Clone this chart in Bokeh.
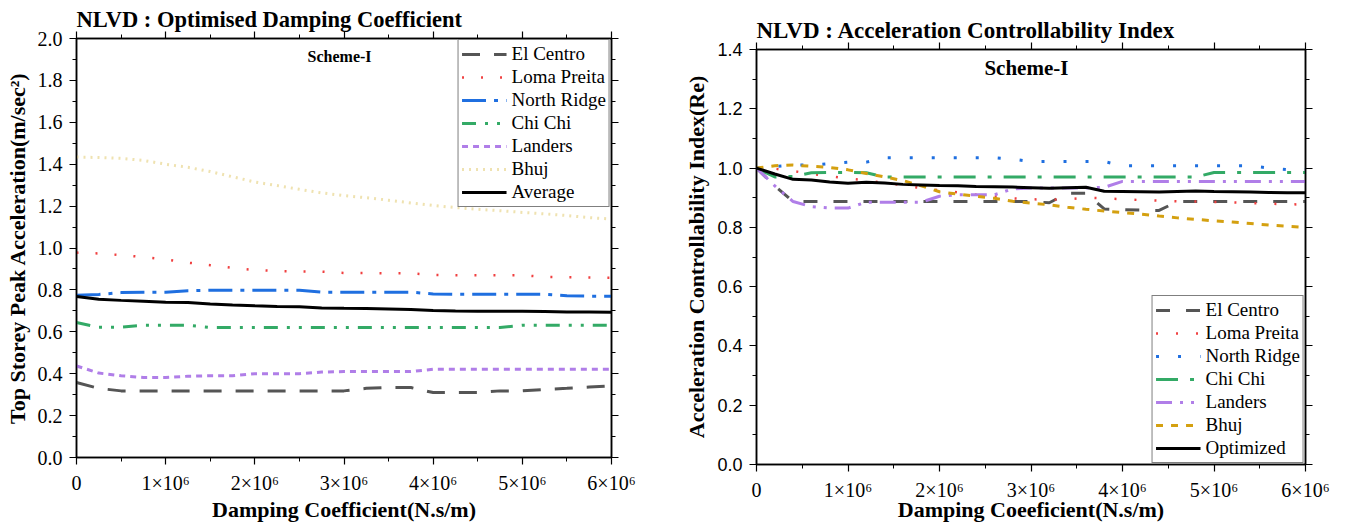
from bokeh.plotting import figure
from bokeh.layouts import row, column
from bokeh.models import Range1d, LinearAxis, FixedTicker, Label, NumeralTickFormatter
from bokeh.embed import file_html
from bokeh.resources import INLINE

MEGA = 1_000_000

# ---------------- left panel: top storey peak acceleration ----------------
damping_left = [0, 0.25, 0.5, 0.75, 1.0, 1.25, 1.5, 1.75, 2.0, 2.25, 2.5, 2.75, 3.0,
                3.25, 3.5, 3.75, 4.0, 4.25, 4.5, 4.75, 5.0, 5.25, 5.5, 5.75, 6.0]

acc_el_centro = [0.358, 0.330, 0.318, 0.318, 0.318, 0.318, 0.318, 0.318, 0.318, 0.318, 0.318, 0.318, 0.318,
                 0.330, 0.334, 0.334, 0.310, 0.310, 0.310, 0.318, 0.318, 0.325, 0.330, 0.336, 0.342]
acc_loma_preita = [0.978, 0.974, 0.966, 0.957, 0.946, 0.930, 0.918, 0.905, 0.895, 0.890, 0.888, 0.887, 0.881,
                   0.880, 0.879, 0.879, 0.872, 0.870, 0.870, 0.870, 0.870, 0.862, 0.860, 0.859, 0.858]
acc_north_ridge = [0.775, 0.778, 0.787, 0.789, 0.789, 0.796, 0.798, 0.798, 0.798, 0.798, 0.798, 0.789, 0.789,
                   0.789, 0.789, 0.789, 0.781, 0.779, 0.779, 0.779, 0.779, 0.779, 0.772, 0.770, 0.770]
acc_chi_chi = [0.644, 0.622, 0.622, 0.631, 0.631, 0.631, 0.621, 0.621, 0.621, 0.621, 0.621, 0.621, 0.621,
               0.621, 0.621, 0.621, 0.621, 0.621, 0.621, 0.621, 0.631, 0.631, 0.631, 0.631, 0.631]
acc_landers = [0.437, 0.403, 0.390, 0.382, 0.382, 0.388, 0.390, 0.390, 0.400, 0.400, 0.400, 0.408, 0.410,
               0.410, 0.410, 0.410, 0.421, 0.421, 0.421, 0.421, 0.421, 0.421, 0.421, 0.421, 0.421]
acc_bhuj = [1.434, 1.432, 1.428, 1.418, 1.400, 1.385, 1.365, 1.340, 1.315, 1.298, 1.280, 1.263, 1.250,
            1.240, 1.228, 1.215, 1.203, 1.193, 1.185, 1.178, 1.170, 1.163, 1.155, 1.145, 1.138]
acc_average = [0.768, 0.755, 0.750, 0.746, 0.741, 0.740, 0.733, 0.728, 0.724, 0.721, 0.719, 0.714, 0.712,
               0.711, 0.709, 0.706, 0.702, 0.699, 0.698, 0.698, 0.698, 0.697, 0.695, 0.694, 0.693]

# ---------------- right panel: acceleration controllability index ----------------
damping_right = [0, 0.2, 0.4, 0.6, 0.8, 1.0, 1.2, 1.4, 1.6, 1.8, 2.0, 2.2, 2.4, 2.6, 2.8, 3.0,
                 3.2, 3.4, 3.6, 3.8, 4.0, 4.2, 4.4, 4.6, 4.8, 5.0, 5.2, 5.4, 5.6, 5.8, 6.0]

re_el_centro = [1.000, 0.940, 0.887, 0.887, 0.887, 0.887, 0.887, 0.887, 0.887, 0.887, 0.887, 0.887, 0.887,
                0.887, 0.887, 0.887, 0.883, 0.915, 0.915, 0.862, 0.860, 0.858, 0.857, 0.887, 0.887, 0.887,
                0.887, 0.887, 0.887, 0.887, 0.887]
re_loma_preita = [1.000, 0.998, 0.990, 0.980, 0.972, 0.965, 0.958, 0.950, 0.942, 0.932, 0.925, 0.918, 0.910,
                  0.905, 0.898, 0.895, 0.893, 0.895, 0.900, 0.898, 0.895, 0.892, 0.890, 0.888, 0.887, 0.886,
                  0.884, 0.882, 0.880, 0.878, 0.877]
re_north_ridge = [1.000, 1.005, 1.010, 1.010, 1.015, 1.020, 1.020, 1.035, 1.035, 1.035, 1.035, 1.035, 1.035,
                  1.035, 1.030, 1.022, 1.022, 1.022, 1.022, 1.022, 1.008, 1.008, 1.008, 1.008, 1.008, 1.008,
                  1.008, 1.008, 1.000, 0.995, 0.995]
re_chi_chi = [1.000, 0.970, 0.972, 0.984, 0.985, 0.985, 0.984, 0.970, 0.970, 0.970, 0.970, 0.970, 0.970,
              0.970, 0.970, 0.970, 0.970, 0.970, 0.970, 0.970, 0.970, 0.970, 0.970, 0.970, 0.970, 0.985,
              0.985, 0.985, 0.985, 0.985, 0.985]
re_landers = [1.000, 0.940, 0.887, 0.870, 0.865, 0.865, 0.885, 0.885, 0.885, 0.885, 0.905, 0.910, 0.910,
              0.910, 0.930, 0.933, 0.933, 0.933, 0.933, 0.935, 0.955, 0.955, 0.955, 0.955, 0.955, 0.955,
              0.955, 0.955, 0.955, 0.955, 0.955]
re_bhuj = [1.000, 1.008, 1.010, 1.006, 1.002, 0.994, 0.982, 0.970, 0.958, 0.940, 0.920, 0.912, 0.905,
           0.898, 0.888, 0.882, 0.876, 0.868, 0.861, 0.855, 0.850, 0.845, 0.838, 0.832, 0.827, 0.822,
           0.818, 0.813, 0.808, 0.804, 0.800]
re_optimized = [1.000, 0.980, 0.962, 0.960, 0.953, 0.949, 0.952, 0.950, 0.945, 0.943, 0.941, 0.940, 0.938,
                0.937, 0.936, 0.934, 0.932, 0.934, 0.935, 0.922, 0.921, 0.920, 0.919, 0.921, 0.923, 0.921,
                0.920, 0.919, 0.918, 0.917, 0.917]

x_major = [0, 1, 2, 3, 4, 5, 6]
x_minor = [0.5, 1.5, 2.5, 3.5, 4.5, 5.5]
x_tick_labels = ["0", "1×10⁶", "2×10⁶", "3×10⁶", "4×10⁶", "5×10⁶", "6×10⁶"]

SERIF = "Liberation Serif"
TIMES = "Times New Roman"
SANS = "Liberation Sans"


def scaled(values):
    return [v * MEGA for v in values]


def y_ticks(top):
    n = int(round(top / 0.2))
    major = [round(0.2 * i, 1) for i in range(n + 1)]
    minor = [round(0.1 + 0.2 * i, 1) for i in range(n)]
    return major, minor


def style_axis(ax, ticker, tick_font, tick_size, show_labels=True):
    ax.ticker = ticker
    ax.axis_line_color = "black"
    ax.axis_line_width = 1.5
    ax.major_tick_line_color = "black"
    ax.minor_tick_line_color = "black"
    ax.major_tick_line_width = 1.2
    ax.minor_tick_line_width = 1.0
    ax.major_tick_in = 0
    ax.major_tick_out = 7
    ax.minor_tick_in = 0
    ax.minor_tick_out = 4
    ax.major_label_text_font = tick_font
    ax.major_label_text_font_style = "normal"
    ax.major_label_text_line_height = 1.0
    if show_labels:
        ax.major_label_text_color = "black"
        ax.major_label_text_font_size = tick_size
    else:
        # mirrored frame axis: ticks only
        ax.major_label_text_color = None
        ax.major_label_text_font_size = "1px"
        ax.major_label_standoff = 0


def make_panel(width, borders, y_top, title, y_label, x_label, y_tick_font, y_tick_size,
               x_tick_size, title_size, x_label_gap):
    left, right, top, bottom = borders
    p = figure(width=width, height=524, output_backend="svg", toolbar_location=None,
               x_range=Range1d(0, 6 * MEGA), y_range=Range1d(0, y_top),
               min_border_left=left, min_border_right=right,
               min_border_top=top, min_border_bottom=bottom,
               background_fill_color="white", border_fill_color="white",
               title=title)
    p.grid.visible = False
    p.outline_line_color = "black"
    p.outline_line_width = 1.5

    xt = FixedTicker(ticks=scaled(x_major), minor_ticks=scaled(x_minor))
    ymaj, ymin = y_ticks(y_top)
    yt = FixedTicker(ticks=ymaj, minor_ticks=ymin)

    xa = p.xaxis[0]
    style_axis(xa, xt, TIMES, x_tick_size)
    xa.major_label_overrides = {int(v * MEGA): t for v, t in zip(x_major, x_tick_labels)}
    xa.axis_label = x_label
    xa.axis_label_text_font = SERIF
    xa.axis_label_text_font_style = "bold"
    xa.axis_label_text_font_size = "22px"
    xa.axis_label_text_color = "black"
    xa.axis_label_text_line_height = 1.0
    xa.axis_label_standoff = x_label_gap
    xa.major_label_standoff = 7

    ya = p.yaxis[0]
    style_axis(ya, yt, y_tick_font, y_tick_size)
    ya.formatter = NumeralTickFormatter(format="0.0")
    ya.axis_label = y_label
    ya.axis_label_text_font = SERIF
    ya.axis_label_text_font_style = "bold"
    ya.axis_label_text_font_size = "22px"
    ya.axis_label_text_color = "black"
    ya.axis_label_standoff = 5
    ya.major_label_standoff = 7

    top_axis = LinearAxis()
    style_axis(top_axis, FixedTicker(ticks=scaled(x_major), minor_ticks=scaled(x_minor)),
               TIMES, "1px", show_labels=False)
    p.add_layout(top_axis, "above")
    right_axis = LinearAxis()
    style_axis(right_axis, FixedTicker(ticks=ymaj, minor_ticks=ymin), TIMES, "1px",
               show_labels=False)
    p.add_layout(right_axis, "right")

    p.title.text_font = SERIF
    p.title.text_font_style = "bold"
    p.title.text_font_size = title_size
    p.title.text_color = "black"
    p.title.text_line_height = 1.0
    p.title.align = "left"
    p.title.offset = 0
    p.title.standoff = 0
    return p


def style_legend(p, location):
    lg = p.legend[0]
    lg.location = location
    lg.margin = 1
    lg.padding = 3
    lg.spacing = 1
    lg.glyph_width = 45
    lg.glyph_height = 20
    lg.label_height = 20
    lg.label_standoff = 5
    lg.label_text_font = TIMES
    lg.label_text_font_style = "normal"
    lg.label_text_font_size = "19px"
    lg.label_text_color = "black"
    lg.border_line_color = "black"
    lg.border_line_width = 1.5
    lg.background_fill_color = "white"
    lg.background_fill_alpha = 1.0


# ---- left figure ----
left = make_panel(650, (76, 39, 38, 67), 2.0,
                  "NLVD : Optimised Damping Coefficient",
                  "Top Storey Peak Acceleration(m/sec²)",
                  "Damping Coefficient(N.s/m)",
                  TIMES, "20px", "20px", "22.5px", 0)
xl = scaled(damping_left)
left.line(xl, acc_el_centro, legend_label="El Centro", line_color="#555555", line_width=3,
          line_dash="18 14")
left.line(xl, acc_loma_preita, legend_label="Loma Preita", line_color="#f04040", line_width=2.5,
          line_dash="2 17")
left.line(xl, acc_north_ridge, legend_label="North Ridge", line_color="#1f6fe0", line_width=3,
          line_dash="24 8 4 8")
left.line(xl, acc_chi_chi, legend_label="Chi Chi", line_color="#33aa66", line_width=3,
          line_dash="14 9 3 9 3 9")
left.line(xl, acc_landers, legend_label="Landers", line_color="#b07ee8", line_width=3,
          line_dash="6 5")
left.line(xl, acc_bhuj, legend_label="Bhuj", line_color="#efe2b0", line_width=3,
          line_dash="2 5")
left.line(xl, acc_average, legend_label="Average", line_color="black", line_width=3)
style_legend(left, "top_right")
left.add_layout(Label(x=2.95 * MEGA, y=1.916, text="Scheme-I", text_font=SERIF,
                      text_font_style="bold", text_font_size="16px", text_align="center",
                      text_baseline="middle", text_color="black"))

# ---- right figure ----
right = make_panel(697, (106, 42, 49, 60), 1.4,
                   "NLVD : Acceleration Controllability Index",
                   "Acceleration Controllability Index(Re)",
                   "Damping Coeeficient(N.s/m)",
                   SANS, "18px", "20px", "23px", -7)
xr = scaled(damping_right)
right.line(xr, re_el_centro, legend_label="El Centro", line_color="#555555", line_width=3,
           line_dash="14 16")
right.line(xr, re_loma_preita, legend_label="Loma Preita", line_color="#f04040", line_width=2.5,
           line_dash="2 18")
right.line(xr, re_north_ridge, legend_label="North Ridge", line_color="#1f6fe0", line_width=3,
           line_dash="3 19")
right.line(xr, re_chi_chi, legend_label="Chi Chi", line_color="#33aa66", line_width=3,
           line_dash="22 12 4 12")
right.line(xr, re_landers, legend_label="Landers", line_color="#b07ee8", line_width=3,
           line_dash="16 8 3 8 3 8")
right.line(xr, re_bhuj, legend_label="Bhuj", line_color="#d4a010", line_width=3,
           line_dash="7 8")
right.line(xr, re_optimized, legend_label="Optimized", line_color="black", line_width=3)
style_legend(right, "bottom_right")
right.add_layout(Label(x=2.95 * MEGA, y=1.336, text="Scheme-I", text_font=SERIF,
                       text_font_style="bold", text_font_size="21px", text_align="center",
                       text_baseline="middle", text_color="black"))

# each chart sits in its own column so their frames are laid out independently
layout = row(column(left), column(right))
open("out.html", "w").write(file_html(layout, INLINE))
